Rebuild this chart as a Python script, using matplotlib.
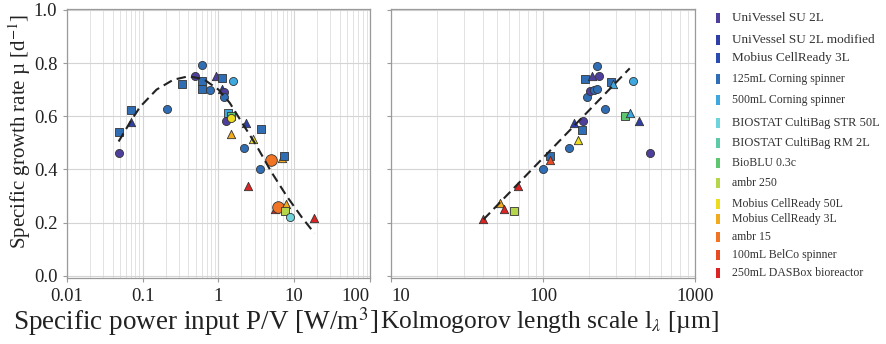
import matplotlib
matplotlib.use("Agg")
import matplotlib.pyplot as plt
from matplotlib.patches import Rectangle

plt.rcParams['font.family'] = ['Liberation Serif', 'DejaVu Serif']
plt.rcParams['mathtext.fontset'] = 'stix'

categories = ["UniVessel SU 2L", "UniVessel SU 2L modified", "Mobius CellReady 3L",
              "125mL Corning spinner", "500mL Corning spinner", "BIOSTAT CultiBag STR 50L",
              "BIOSTAT CultiBag RM 2L", "BioBLU 0.3c", "ambr 250", "Mobius CellReady 50L",
              "Mobius CellReady 3L", "ambr 15", "100mL BelCo spinner", "250mL DASBox bioreactor"]
cat_colors = ["#4e3f9c", "#2e3fa8", "#2a4bb0", "#2f6db5", "#3fa8de", "#6fd3dc", "#5cc9a7",
              "#5dc66e", "#b5d64a", "#ecdc1e", "#f2ab1c", "#f07424", "#e84a22", "#dc2424"]

# Left panel: specific power input P/V [W/m3] vs growth rate
pv_x = [0.048, 0.049, 0.069, 0.069, 0.208, 0.325, 0.486, 0.613, 0.60, 0.613, 0.78, 0.918,
        1.10, 1.10, 1.18, 1.20, 1.57, 1.32, 1.27, 1.45, 1.46, 1.46, 2.32, 2.84, 3.66, 2.16,
        3.55, 2.47, 4.94, 6.83, 7.26, 5.53, 6.12, 7.8, 7.6, 8.79, 18.5]
pv_y = [0.462, 0.54, 0.622, 0.58, 0.627, 0.722, 0.752, 0.792, 0.732, 0.702, 0.698, 0.752,
        0.742, 0.702, 0.692, 0.672, 0.732, 0.612, 0.583, 0.60, 0.593, 0.533, 0.574, 0.513,
        0.553, 0.482, 0.402, 0.337, 0.436, 0.442, 0.451, 0.253, 0.259, 0.271, 0.242, 0.221,
        0.218]
pv_cat = [0, 3, 3, 1, 3, 3, 0, 3, 3, 3, 3, 0, 3, 1, 0, 3, 4, 4, 0, 7, 9, 10, 1, 9, 3, 3,
          3, 13, 11, 10, 3, 13, 11, 10, 8, 5, 13]
pv_shape = ["o", "s", "s", "^", "o", "s", "o", "o", "s", "s", "o", "^", "s", "^", "o", "o",
            "o", "s", "o", "s", "o", "^", "^", "^", "s", "o", "o", "^", "O", "^", "s", "^",
            "O", "^", "s", "o", "^"]

# Left panel fit curve
fit_pv_x = [0.048, 0.069, 0.092, 0.152, 0.253, 0.40, 0.63, 1.0, 1.41, 2.0, 3.16, 5.0, 7.94,
            12.6, 18.5]
fit_pv_y = [0.505, 0.58, 0.635, 0.70, 0.737, 0.750, 0.740, 0.700, 0.650, 0.580, 0.490,
            0.390, 0.300, 0.220, 0.160]

# Right panel: Kolmogorov length scale [um] vs growth rate
kl_x = [40.6, 52.3, 55.8, 64, 68, 100, 111.4, 111, 149, 169, 181, 159, 183, 189, 211, 235,
        227, 194, 203, 215, 227, 254, 279, 290, 389, 347, 374, 427, 503]
kl_y = [0.215, 0.2725, 0.2525, 0.244, 0.339, 0.401, 0.451, 0.434, 0.481, 0.5125, 0.55, 0.575,
        0.5825, 0.74, 0.75, 0.75, 0.79, 0.671, 0.696, 0.70, 0.7025, 0.6275, 0.73, 0.721,
        0.734, 0.60, 0.6125, 0.581, 0.461]
kl_cat = [13, 10, 13, 8, 13, 3, 3, 12, 3, 9, 3, 1, 0, 3, 0, 0, 3, 3, 0, 3, 3, 3, 3, 4, 4,
          7, 4, 1, 0]
kl_shape = ["^", "^", "^", "s", "^", "o", "s", "^", "o", "^", "s", "^", "o", "s", "^", "o",
            "o", "o", "o", "o", "o", "o", "s", "^", "o", "s", "^", "^", "o"]

fit_kl_x = [40.6, 372]
fit_kl_y = [0.212, 0.780]

W, H = 887, 344
fig = plt.figure(figsize=(W / 100, H / 100), dpi=100)

def axrect(x0, x1, y0, y1):
    return [x0 / W, 1 - y1 / H, (x1 - x0) / W, (y1 - y0) / H]

ax1 = fig.add_axes(axrect(67, 370, 9, 278))
ax2 = fig.add_axes(axrect(391, 695, 9, 278))

marker_map = {"o": ("o", 34), "s": ("s", 28), "^": ("^", 36), "O": ("o", 70)}

def style(ax, xlim):
    ax.set_xscale("log")
    ax.set_xlim(*xlim)
    ax.set_ylim(-0.008, 1.003)
    ax.set_yticks([0.0, 0.2, 0.4, 0.6, 0.8, 1.0])
    ax.grid(True, which="major", axis="both", color="#d4d4d4", lw=0.8)
    ax.grid(True, which="minor", axis="x", color="#e2e2e2", lw=0.7)
    ax.set_axisbelow(True)
    for s in ax.spines.values():
        s.set_color("#9a9a9a")
        s.set_linewidth(0.9)
    ax.tick_params(which="major", direction="out", length=3, color="#9a9a9a",
                   labelsize=13.5, labelcolor="#222222", pad=4)
    ax.tick_params(which="minor", length=0)

def scatter(ax, xs, ys, cats, shapes):
    for x, y, c, sh in zip(xs, ys, cats, shapes):
        m, s = marker_map[sh]
        ax.scatter([x], [y], marker=m, s=s, c=cat_colors[c], edgecolors="#333333",
                   linewidths=0.6, zorder=3)

style(ax1, (0.01, 100))
ax1.set_xticks([0.01, 0.1, 1, 10, 100])
ax1.set_xticklabels(["0.01", "0.1", "1", "10", "100"])
ax1.set_yticklabels(["0.0", "0.2", "0.4", "0.6", "0.8", "1.0"])
ax1.get_xticklabels()[-1].set_horizontalalignment("right")
scatter(ax1, pv_x, pv_y, pv_cat, pv_shape)
ax1.plot(fit_pv_x, fit_pv_y, color="#222222", lw=1.5, ls=(0, (4.5, 2.5)), zorder=4)

style(ax2, (10, 1000))
ax2.set_xticks([10, 100, 1000])
ax2.set_xticklabels(["10", "100", "1000"])
ax2.set_yticklabels([])
ax2.get_xticklabels()[0].set_horizontalalignment("left")
scatter(ax2, kl_x, kl_y, kl_cat, kl_shape)
ax2.plot(fit_kl_x, fit_kl_y, color="#222222", lw=1.5, ls=(0, (4.5, 2.5)), zorder=4)

fig.text(196 / W, 1 - 322 / H, "Specific power input P/V [W/m$^3$]", ha="center",
         va="center", fontsize=19.5, color="#222222")
fig.text(550 / W, 1 - 322 / H, "Kolmogorov length scale l$_\\lambda$ [\u00b5m]", ha="center",
         va="center", fontsize=18.4, color="#222222")
fig.text(20 / W, 1 - 131 / H, "Specific growth rate \u00b5 [d$^{-1}$]", rotation=90,
         ha="center", va="center", fontsize=15, color="#222222")

# Legend
row_y = [18, 40, 58, 79, 100, 123, 143, 163, 183, 204, 219, 237, 255, 273]
row_fs = [9.5, 9.5, 9.5, 8.5, 8.5, 9, 9, 8.5, 8.5, 8.5, 8.5, 8.5, 8.5, 8.5]
for name, col, yy, fs in zip(categories, cat_colors, row_y, row_fs):
    fig.patches.append(Rectangle((716 / W, 1 - (yy + 5) / H), 4 / W, 10 / H,
                                 transform=fig.transFigure, color=col, lw=0))
    fig.text(732 / W, 1 - yy / H, name, ha="left", va="center", fontsize=fs,
             color="#333333")

fig.savefig("out.png", dpi=100)
